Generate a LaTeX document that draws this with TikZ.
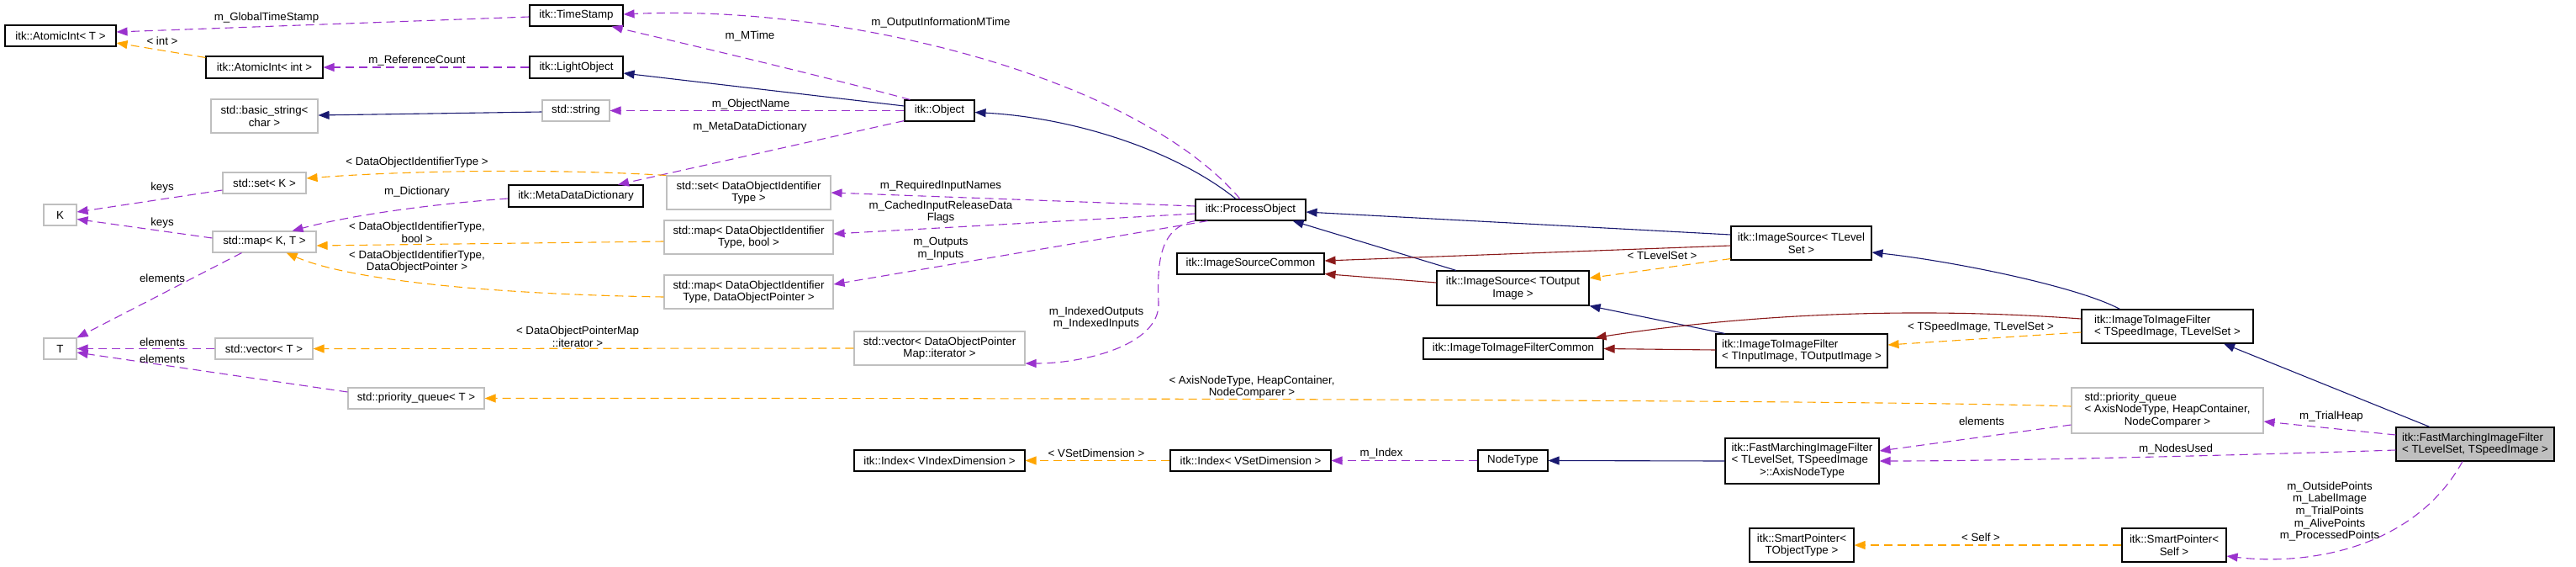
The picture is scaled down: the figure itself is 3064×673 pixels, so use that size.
\documentclass[tikz,border=0pt]{standalone}
\usepackage{fontspec}
\setmainfont{Liberation Sans}
\usetikzlibrary{arrows.meta,calc}
\definecolor{purp}{HTML}{9A32CD}
\definecolor{orng}{HTML}{FFA500}
\definecolor{navyb}{HTML}{191970}
\definecolor{firer}{HTML}{8B1A1A}
\definecolor{grayb}{HTML}{BFBFBF}
\newcommand\dgfont{\fontsize{13.3pt}{14.6pt}\selectfont}
\tikzset{
  box/.style={draw=black, line width=1.1pt, inner sep=0pt, minimum height=25pt, font=\dgfont, align=center},
  gbox/.style={box, draw=grayb},
  lbox/.style={box, align=left},
  usel/.style={draw=purp, line width=1.1pt, dash pattern=on 10pt off 6pt, -{Triangle[length=13pt,width=10pt]}},
  tmpl/.style={usel, draw=orng},
  inh/.style={draw=navyb, line width=1.1pt, -{Triangle[length=13pt,width=10pt]}},
  pinh/.style={draw=firer, line width=1.1pt, -{Triangle[length=13pt,width=10pt]}},
  lbl/.style={font=\dgfont, inner sep=0pt, align=center},
}
\begin{document}
\begin{tikzpicture}[x=1pt,y=-1pt]
\useasboundingbox (0,0) rectangle (3064,673);
% nodes
\node[box, minimum width=132] (atiT) at (72,42.5) {itk::AtomicInt< T >};
\node[box, minimum width=139, minimum height=26] (atiInt) at (314.5,80) {itk::AtomicInt< int >};
\node[box, minimum width=111] (tstamp) at (685.5,18.5) {itk::TimeStamp};
\node[box, minimum width=111, minimum height=26] (lobj) at (685.5,80) {itk::LightObject};
\node[gbox, minimum width=127, minimum height=40] (bstr) at (314.5,138) {std::basic\_string<\\char >};
\node[gbox, minimum width=80] (sstr) at (685,131.5) {std::string};
\node[box, minimum width=83] (obj) at (1117.5,131.5) {itk::Object};
\node[box, minimum width=160, minimum height=26] (mdd) at (685,233) {itk::MetaDataDictionary};
\node[gbox, minimum width=99] (setK) at (314.5,217.5) {std::set< K >};
\node[gbox, minimum width=39] (K) at (71.5,255.5) {K};
\node[gbox, minimum width=123] (mapKT) at (314.5,287.5) {std::map< K, T >};
\node[gbox, minimum width=39] (T) at (71.5,414.5) {T};
\node[gbox, minimum width=116] (vecT) at (314,414.5) {std::vector< T >};
\node[gbox, minimum width=162] (pqT) at (495,473.5) {std::priority\_queue< T >};
\node[gbox, minimum width=195, minimum height=40] (setDOI) at (890.5,229) {std::set< DataObjectIdentifier\\Type >};
\node[gbox, minimum width=201, minimum height=40] (mapDOIb) at (890.5,282) {std::map< DataObjectIdentifier\\Type, bool >};
\node[gbox, minimum width=201, minimum height=40] (mapDOIp) at (890.5,347) {std::map< DataObjectIdentifier\\Type, DataObjectPointer >};
\node[gbox, minimum width=203, minimum height=40] (vecDOP) at (1117.5,414) {std::vector< DataObjectPointer\\Map::iterator >};
\node[box, minimum width=131] (pobj) at (1487.5,249.5) {itk::ProcessObject};
\node[box, minimum width=175] (isc) at (1487.5,313.5) {itk::ImageSourceCommon};
\node[box, minimum width=181, minimum height=41] (isOut) at (1799.5,342.5) {itk::ImageSource< TOutput\\Image >};
\node[box, minimum width=167, minimum height=40] (isLS) at (2142.5,289) {itk::ImageSource< TLevel\\Set >};
\node[box, minimum width=214] (iic) at (1800,414.5) {itk::ImageToImageFilterCommon};
\node[lbox, minimum width=204, minimum height=40] (iiIO) at (2143,417) {itk::ImageToImageFilter\\< TInputImage, TOutputImage >};
\node[lbox, minimum width=204, minimum height=40] (iiSL) at (2578,388) {itk::ImageToImageFilter\\< TSpeedImage, TLevelSet >};
\node[box, minimum width=203] (idxV) at (1117.5,547.5) {itk::Index< VIndexDimension >};
\node[box, minimum width=191] (idxS) at (1487.5,547.5) {itk::Index< VSetDimension >};
\node[box, minimum width=83] (ntype) at (1799.5,547.5) {NodeType};
\node[box, minimum width=183, minimum height=54] (axis) at (2143.5,548) {\begin{tabular}{@{}l@{}}itk::FastMarchingImageFilter\\< TLevelSet, TSpeedImage\\\multicolumn{1}{@{}c@{}}{>::AxisNodeType}\end{tabular}};
\node[gbox, minimum width=228, minimum height=54] (pqA) at (2578,488) {\begin{tabular}{@{}l@{}}std::priority\_queue\\< AxisNodeType, HeapContainer,\\\multicolumn{1}{@{}c@{}}{NodeComparer >}\end{tabular}};
\node[lbox, fill=grayb, minimum width=188, minimum height=40] (fmif) at (2944,528) {itk::FastMarchingImageFilter\\< TLevelSet, TSpeedImage >};
\node[box, minimum width=124, minimum height=40] (spT) at (2143,648) {itk::SmartPointer<\\TObjectType >};
\node[box, minimum width=124, minimum height=40] (spS) at (2586,648) {itk::SmartPointer<\\Self >};
% edges
\draw[usel] ($(tstamp.west)+(0,1.5)$) -- ($(atiT.east)+(0,-4.5)$);
\draw[tmpl] ($(atiInt.north west)+(0,2)$) -- ($(atiT.east)+(0,8.5)$);
\draw[usel] (lobj.west) -- (atiInt.east);
\draw[usel] ($(obj.north west)+(7,0)$) .. controls (1000,96) and (850,60) .. ($(tstamp.south east)+(-14,0)$);
\draw[inh] ($(obj.west)+(0,-5.5)$) -- ($(lobj.east)+(0,7)$);
\draw[inh] ($(sstr.west)+(0,1.5)$) -- ($(bstr.east)+(0,-1)$);
\draw[usel] (obj.west) -- (sstr.east);
\draw[usel] ($(obj.south west)+(0,-1)$) -- ($(mdd.north)+(50,0)$);
\draw[usel] ($(mdd.west)+(0,3)$) .. controls (520,242) and (420,255) .. ($(mapKT.north)+(33,0)$);
\draw[usel] ($(setK.west)+(0,8.5)$) -- ($(K.east)+(0,-3.5)$);
\draw[usel] ($(mapKT.west)+(0,-4.5)$) -- ($(K.east)+(0,5)$);
\draw[usel] ($(mapKT.south)+(-27,0)$) -- (T.north east);
\draw[usel] (vecT.west) -- (T.east);
\draw[usel] ($(pqT.west)+(0,-7.5)$) -- ($(T.east)+(0,4.5)$);
\draw[tmpl] (setDOI.north west) .. controls (650,200) and (480,203) .. ($(setK.east)+(0,-5.5)$);
\draw[tmpl] ($(mapDOIb.west)+(0,5)$) -- ($(mapKT.east)+(0,4.5)$);
\draw[tmpl] ($(mapDOIp.west)+(0,6)$) .. controls (600,350) and (420,335) .. ($(mapKT.south east)+(-36,0)$);
\draw[tmpl] (vecDOP.west) -- (vecT.east);
\draw[usel] ($(pobj.north)+(-12.5,0)$) .. controls (1350,90) and (1000,5) .. ($(tstamp.east)+(0,-1.5)$);
\draw[inh] ($(pobj.north)+(-17.5,0)$) .. controls (1400,180) and (1280,140) .. ($(obj.east)+(0,2)$);
\draw[usel] ($(pobj.west)+(0,-4.5)$) -- (setDOI.east);
\draw[usel] ($(pobj.west)+(0,4.5)$) -- ($(mapDOIb.east)+(0,-4)$);
\draw[usel] ($(pobj.south west)+(15,0)$) -- ($(mapDOIp.east)+(0,-9)$);
\draw[usel] (pobj.south west) .. controls (1380,270) and (1376,310) .. (1378,360) .. controls (1380,410) and (1290,432) .. ($(vecDOP.east)+(0,18)$);
\draw[inh] ($(isOut.north)+(-67.5,0)$) -- ($(pobj.south east)+(-16,0)$);
\draw[pinh] ($(isOut.west)+(0,-6.5)$) -- ($(isc.south east)+(0,-1)$);
\draw[inh] ($(isLS.west)+(0,-10)$) -- ($(pobj.east)+(0,2.5)$);
\draw[pinh] ($(isLS.west)+(0,3)$) -- ($(isc.east)+(0,-3.5)$);
\draw[tmpl] ($(isLS.south west)+(0,-2)$) -- ($(isOut.east)+(0,-12)$);
\draw[inh] ($(iiIO.north west)+(11,0)$) -- (isOut.south east);
\draw[pinh] ($(iiIO.west)+(0,-1)$) -- (iic.east);
\draw[inh] ($(iiSL.north west)+(46,0)$) .. controls (2470,340) and (2320,310) .. ($(isLS.east)+(0,11)$);
\draw[pinh] ($(iiSL.west)+(0,-9)$) .. controls (2300,366) and (2100,370) .. ($(iic.north east)+(-10,0)$);
\draw[tmpl] ($(iiSL.west)+(0,7)$) -- ($(iiIO.east)+(0,-7)$);
\draw[inh] ($(fmif.north)+(-54,0)$) -- ($(iiSL.south)+(67,0)$);
\draw[usel] ($(fmif.west)+(0,-11)$) -- ($(pqA.east)+(0,13)$);
\draw[usel] ($(fmif.west)+(0,7)$) .. controls (2700,540) and (2400,548) .. (axis.east);
\draw[usel] ($(fmif.south)+(-15,0)$) .. controls (2870,655) and (2740,672) .. ($(spS.east)+(0,13)$);
\draw[usel] ($(pqA.west)+(0,17)$) -- ($(axis.east)+(0,-12)$);
\draw[tmpl] ($(pqA.west)+(0,-5)$) .. controls (2300,477) and (1500,473) .. (pqT.east);
\draw[inh] (axis.west) -- (ntype.east);
\draw[usel] (ntype.west) -- (idxS.east);
\draw[tmpl] (idxS.west) -- (idxV.east);
\draw[tmpl] (spS.west) -- (spT.east);
% labels
\node[lbl] (l1) at (317,21) {m\_GlobalTimeStamp};
\node[lbl] (l2) at (193,49) {< int >};
\node[lbl] (l3) at (496,72) {m\_ReferenceCount};
\node[lbl] (l4) at (892,43) {m\_MTime};
\node[lbl] (l5) at (893,124) {m\_ObjectName};
\node[lbl] (l6) at (892,151) {m\_MetaDataDictionary};
\node[lbl] (l7) at (496,193) {< DataObjectIdentifierType >};
\node[lbl] (l8) at (496,228) {m\_Dictionary};
\node[lbl] (l9) at (496,276) {< DataObjectIdentifierType,\\bool >};
\node[lbl] (l10) at (496,311) {< DataObjectIdentifierType,\\DataObjectPointer >};
\node[lbl] (l11) at (193,223) {keys};
\node[lbl] (l12) at (193,265) {keys};
\node[lbl] (l13) at (193,331) {elements};
\node[lbl] (l14) at (193,407) {elements};
\node[lbl] (l15) at (193,427) {elements};
\node[lbl] (l16) at (687,400) {< DataObjectPointerMap\\::iterator >};
\node[lbl] (l17) at (1119,27) {m\_OutputInformationMTime};
\node[lbl] (l18) at (1119,221) {m\_RequiredInputNames};
\node[lbl] (l19) at (1119,252) {m\_CachedInputReleaseData\\Flags};
\node[lbl] (l20) at (1119,296) {m\_Outputs\\m\_Inputs};
\node[lbl] (l21) at (1304,378) {m\_IndexedOutputs\\m\_IndexedInputs};
\node[lbl] (l22) at (1489,460) {< AxisNodeType, HeapContainer,\\NodeComparer >};
\node[lbl] (l23) at (1304,539) {< VSetDimension >};
\node[lbl] (l24) at (1643,539) {m\_Index};
\node[lbl] (l25) at (1977,304) {< TLevelSet >};
\node[lbl] (l26) at (2356,389) {< TSpeedImage, TLevelSet >};
\node[lbl] (l27) at (2357,501) {elements};
\node[lbl] (l28) at (2356,639) {< Self >};
\node[lbl] (l29) at (2773,495) {m\_TrialHeap};
\node[lbl] (l30) at (2588,534) {m\_NodesUsed};
\node[lbl] (l31) at (2771,608) {m\_OutsidePoints\\m\_LabelImage\\m\_TrialPoints\\m\_AlivePoints\\m\_ProcessedPoints};
\end{tikzpicture}
\end{document}
